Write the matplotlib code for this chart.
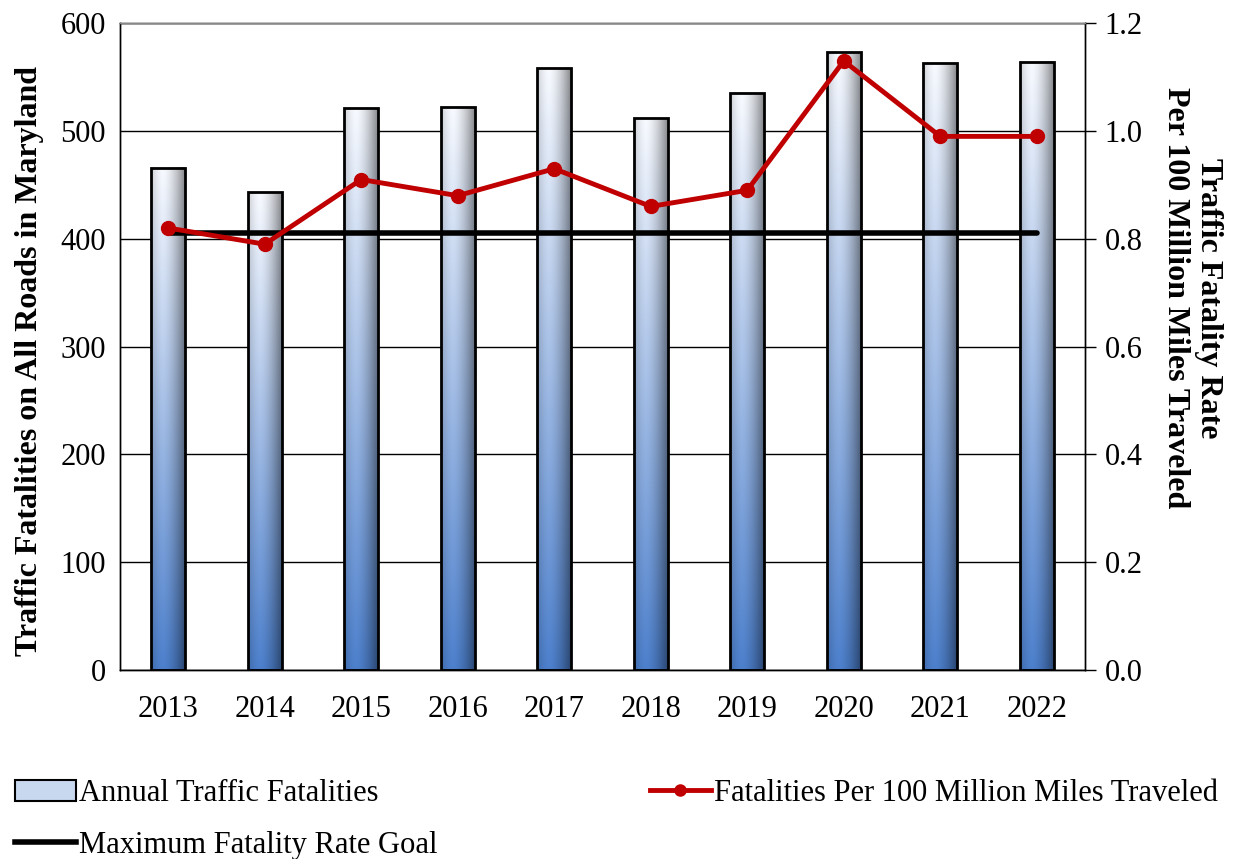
import matplotlib.pyplot as plt
import numpy as np
from matplotlib.patches import Patch
from matplotlib.lines import Line2D

plt.rcParams['font.family'] = ['Liberation Serif', 'DejaVu Serif']

years = ['2013', '2014', '2015', '2016', '2017', '2018', '2019', '2020', '2021', '2022']
fatalities = [466, 443, 521, 522, 558, 512, 535, 573, 563, 564]
rate = [0.82, 0.79, 0.91, 0.88, 0.93, 0.86, 0.89, 1.13, 0.99, 0.99]
goal = [0.81] * len(years)

fig = plt.figure(figsize=(12.33, 8.59), dpi=100)
ax = fig.add_axes([0.0973, 0.22, 0.7827, 0.753])
ax2 = ax.twinx()

x = np.arange(len(years))
w = 0.35

# gradient fill for the bars
ny, nx = 200, 60
t = np.linspace(0, 1, ny)[:, None]          # 0 bottom .. 1 top
s = np.linspace(0, 1, nx)[None, :]
blue = np.array([0.30, 0.50, 0.80])
white = np.array([0.97, 0.98, 1.0])
col = blue * (1 - t[..., None]) + white * t[..., None]
shade = 1 - 0.45 * (np.abs(s - 0.35) / 0.65) ** 1.6
img = np.clip(col * shade[..., None], 0, 1)

bars = ax.bar(x, fatalities, width=w, facecolor='none', edgecolor='black',
              linewidth=2, zorder=3)
for b in bars:
    x0, y0 = b.get_x(), b.get_y()
    ax.imshow(img, extent=[x0, x0 + b.get_width(), y0, y0 + b.get_height()],
              origin='lower', aspect='auto', zorder=2, interpolation='bilinear')

ax.set_xlim(-0.5, len(years) - 0.5)
ax.set_ylim(0, 600)
ax.set_yticks(range(0, 601, 100))
ax.set_xticks(x)
ax.set_xticklabels(years)
ax.grid(axis='y', color='black', linewidth=1)
ax.set_axisbelow(True)
ax.tick_params(axis='x', length=0, labelsize=22, pad=18)
ax.tick_params(axis='y', labelsize=22, length=0, pad=10)
ax.set_ylabel('Traffic Fatalities on All Roads in Maryland', fontsize=23,
              fontweight='bold')
ax.yaxis.set_label_coords(-0.079, 0.478)

ax2.plot(x, goal, color='black', linewidth=4, solid_capstyle='round', zorder=4)
ax2.plot(x, rate, color='#c00000', linewidth=3.5, marker='o', markersize=10,
         zorder=5)
ax2.set_ylim(0, 1.2)
ax2.set_yticks(np.arange(0, 1.21, 0.2))
ax2.set_yticklabels(['%.1f' % v for v in np.arange(0, 1.21, 0.2)])
ax2.tick_params(axis='y', labelsize=22, length=8, width=1, direction='out', pad=6)
ax2.set_ylabel('Traffic Fatality Rate\nPer 100 Million Miles Traveled', fontsize=23,
               fontweight='bold', rotation=270, va='center')
ax2.yaxis.set_label_coords(1.111, 0.575)

for a in (ax, ax2):
    for sp in a.spines.values():
        sp.set_color('black')
        sp.set_linewidth(1)
ax2.spines['top'].set_color('#888888')

handles = [
    Patch(facecolor='#c8d8ee', edgecolor='black', linewidth=1.5),
    Line2D([], [], color='black', linewidth=4),
    Line2D([], [], color='#c00000', linewidth=3.5, marker='o', markersize=8),
]
labels = ['Annual Traffic Fatalities', 'Maximum Fatality Rate Goal',
          'Fatalities Per 100 Million Miles Traveled']
fig.legend(handles, labels, loc='lower left', bbox_to_anchor=(0.0, -0.019, 1.0, 0.11),
           mode='expand', ncol=2, frameon=False, fontsize=22, handlelength=2.0,
           handletextpad=0.1, labelspacing=0.75, borderaxespad=0.1)

fig.savefig('out.png', dpi=100)
